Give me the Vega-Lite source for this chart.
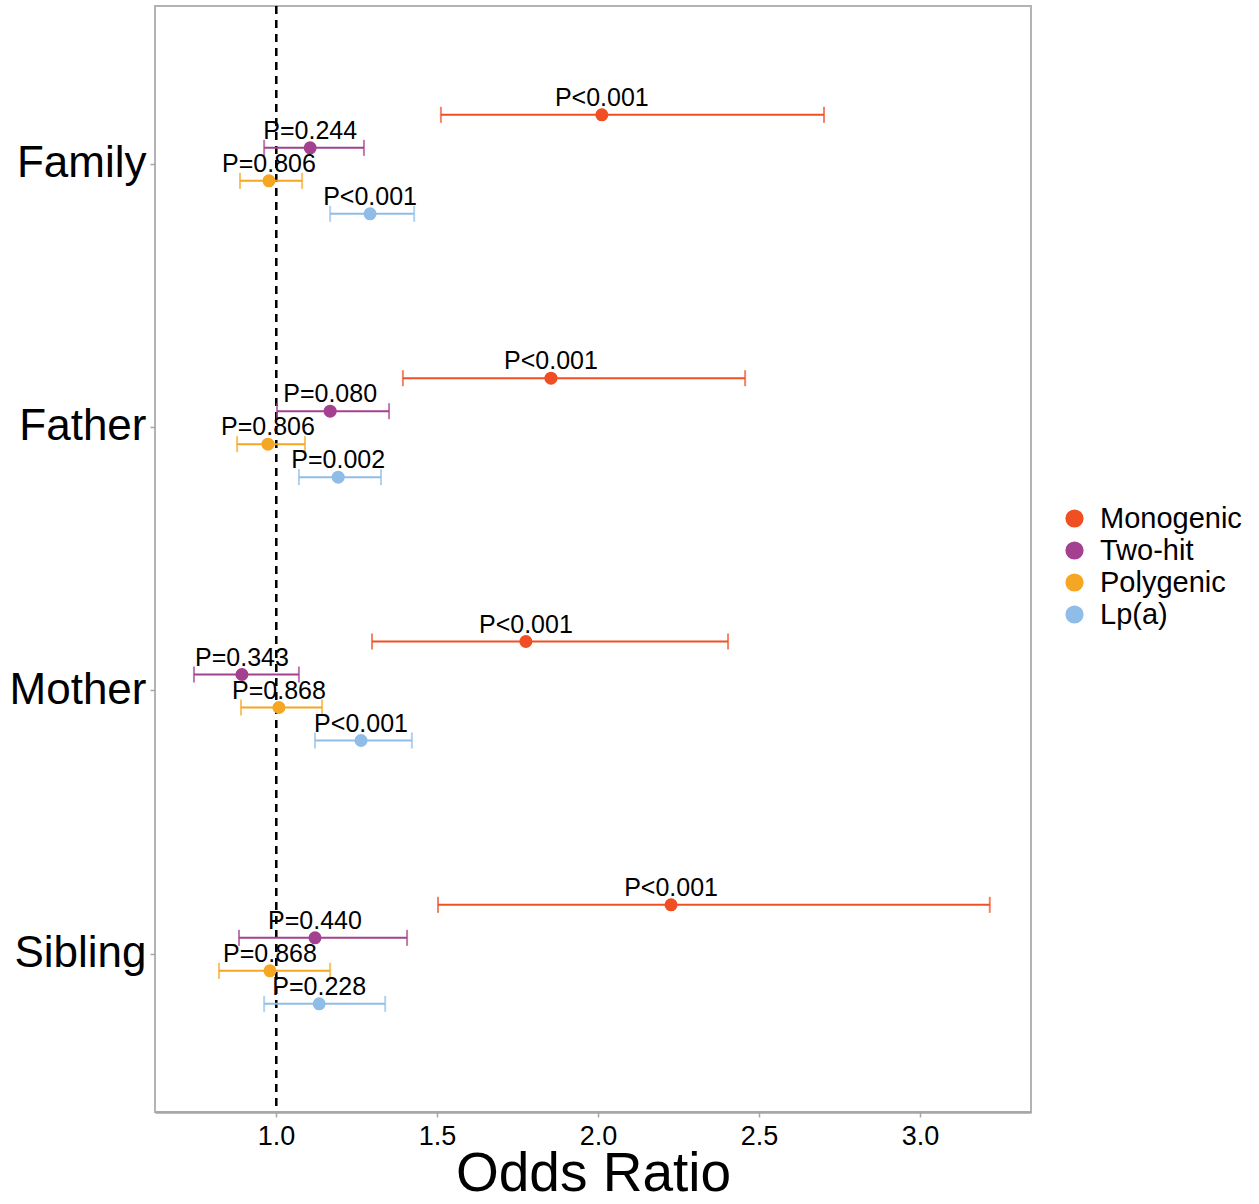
{
  "$schema": "https://vega.github.io/schema/vega-lite/v6.json",
  "autosize": "none",
  "width": 876,
  "height": 1106,
  "padding": {"left": 155, "top": 6, "right": 228, "bottom": 92},
  "background": "white",
  "config": {
    "font": "Liberation Sans",
    "view": {"stroke": "#B3B3B3", "strokeWidth": 2},
    "axis": {"grid": false, "tickColor": "#A6A6A6", "tickSize": 5, "tickWidth": 1.5, "labelColor": "black", "titleColor": "black"}
  },
  "data": {
    "values": [
      {"relation": "Family", "group": "Monogenic", "or": 2.012, "lo": 1.512, "hi": 2.702, "p": "P<0.001"},
      {"relation": "Family", "group": "Two-hit", "or": 1.106, "lo": 0.963, "hi": 1.273, "p": "P=0.244"},
      {"relation": "Family", "group": "Polygenic", "or": 0.978, "lo": 0.888, "hi": 1.081, "p": "P=0.806"},
      {"relation": "Family", "group": "Lp(a)", "or": 1.292, "lo": 1.168, "hi": 1.429, "p": "P<0.001"},
      {"relation": "Father", "group": "Monogenic", "or": 1.854, "lo": 1.394, "hi": 2.457, "p": "P<0.001"},
      {"relation": "Father", "group": "Two-hit", "or": 1.168, "lo": 1.003, "hi": 1.351, "p": "P=0.080"},
      {"relation": "Father", "group": "Polygenic", "or": 0.975, "lo": 0.879, "hi": 1.090, "p": "P=0.806"},
      {"relation": "Father", "group": "Lp(a)", "or": 1.193, "lo": 1.071, "hi": 1.326, "p": "P=0.002"},
      {"relation": "Mother", "group": "Monogenic", "or": 1.776, "lo": 1.298, "hi": 2.404, "p": "P<0.001"},
      {"relation": "Mother", "group": "Two-hit", "or": 0.894, "lo": 0.745, "hi": 1.071, "p": "P=0.343"},
      {"relation": "Mother", "group": "Polygenic", "or": 1.009, "lo": 0.891, "hi": 1.143, "p": "P=0.868"},
      {"relation": "Mother", "group": "Lp(a)", "or": 1.264, "lo": 1.121, "hi": 1.422, "p": "P<0.001"},
      {"relation": "Sibling", "group": "Monogenic", "or": 2.227, "lo": 1.503, "hi": 3.217, "p": "P<0.001"},
      {"relation": "Sibling", "group": "Two-hit", "or": 1.121, "lo": 0.885, "hi": 1.407, "p": "P=0.440"},
      {"relation": "Sibling", "group": "Polygenic", "or": 0.981, "lo": 0.823, "hi": 1.168, "p": "P=0.868"},
      {"relation": "Sibling", "group": "Lp(a)", "or": 1.134, "lo": 0.963, "hi": 1.339, "p": "P=0.228"}
    ]
  },
  "encoding": {
    "y": {
      "field": "relation", "type": "nominal",
      "sort": ["Family", "Father", "Mother", "Sibling"],
      "scale": {"paddingInner": 0, "paddingOuter": 0.1},
      "axis": {"title": null, "labelFontSize": 44, "labelPadding": 4, "domain": false}
    },
    "yOffset": {
      "field": "group", "type": "nominal",
      "sort": ["Monogenic", "Two-hit", "Polygenic", "Lp(a)"],
      "scale": {"paddingInner": 0, "paddingOuter": 0, "range": [66, 198]}
    }
  },
  "layer": [
    {
      "mark": {"type": "rule", "color": "black", "strokeWidth": 2, "strokeDash": [8, 6]},
      "encoding": {"x": {"datum": 1, "type": "quantitative"}, "y": null, "yOffset": null}
    },
    {
      "mark": {"type": "rule", "strokeWidth": 2},
      "encoding": {
        "x": {
          "field": "lo", "type": "quantitative",
          "scale": {"domain": [0.624, 3.345], "nice": false, "zero": false},
          "axis": {"title": "Odds Ratio", "titleFontSize": 55, "titleFontWeight": "normal", "titlePadding": -2, "labelFontSize": 27, "labelPadding": 6, "values": [1, 1.5, 2, 2.5, 3], "format": ".1f", "domainColor": "#A6A6A6", "domainWidth": 2.5}
        },
        "x2": {"field": "hi"},
        "color": {
          "field": "group", "type": "nominal",
          "scale": {"domain": ["Monogenic", "Two-hit", "Polygenic", "Lp(a)"], "range": ["#F04E23", "#A3408F", "#F5A623", "#8FBDE8"]},
          "legend": {
            "title": null, "orient": "none", "legendX": 905, "legendY": 498,
            "labelFontSize": 29, "symbolType": "circle", "symbolSize": 330, "symbolOpacity": 1, "symbolStrokeWidth": 0,
            "rowPadding": 2, "labelOffset": 11,
            "encode": {"symbols": {"update": {"opacity": {"value": 1}, "fillOpacity": {"value": 1}, "strokeOpacity": {"value": 0}}}}
          }
        }
      }
    },
    {
      "mark": {"type": "tick", "size": 16, "thickness": 2},
      "encoding": {"x": {"field": "lo", "type": "quantitative"}, "color": {"field": "group", "type": "nominal"}}
    },
    {
      "mark": {"type": "tick", "size": 16, "thickness": 2},
      "encoding": {"x": {"field": "hi", "type": "quantitative"}, "color": {"field": "group", "type": "nominal"}}
    },
    {
      "mark": {"type": "point", "shape": "circle", "filled": true, "opacity": 1, "size": 170},
      "encoding": {"x": {"field": "or", "type": "quantitative"}, "color": {"field": "group", "type": "nominal"}}
    },
    {
      "mark": {"type": "text", "fontSize": 25, "dy": -17, "color": "black"},
      "encoding": {"x": {"field": "or", "type": "quantitative"}, "text": {"field": "p"}}
    }
  ]
}
